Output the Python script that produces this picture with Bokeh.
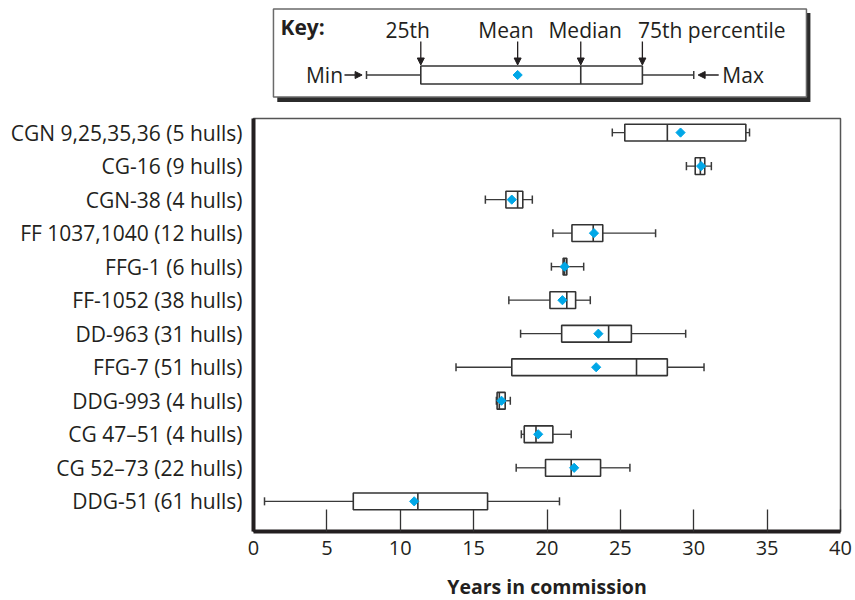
import numpy as np
from bokeh.plotting import figure
from bokeh.layouts import column
from bokeh.models import Range1d, FixedTicker, Arrow, NormalHead, ColumnDataSource
from bokeh.core.properties import value
from bokeh.embed import file_html
from bokeh.resources import INLINE

# ---------------- data ----------------
categories = [
    "CGN 9,25,35,36 (5 hulls)",
    "CG-16 (9 hulls)",
    "CGN-38 (4 hulls)",
    "FF 1037,1040 (12 hulls)",
    "FFG-1 (6 hulls)",
    "FF-1052 (38 hulls)",
    "DD-963 (31 hulls)",
    "FFG-7 (51 hulls)",
    "DDG-993 (4 hulls)",
    "CG 47\u201351 (4 hulls)",
    "CG 52\u201373 (22 hulls)",
    "DDG-51 (61 hulls)",
]
mins    = [24.45, 29.5, 15.8, 20.4, 20.3, 17.4, 18.2, 13.8, 16.55, 18.25, 17.9, 0.75]
q1s     = [25.3, 30.1, 17.2, 21.7, 21.1, 20.2, 21.0, 17.6, 16.6, 18.45, 19.9, 6.8]
medians = [28.2, 30.45, 18.0, 23.15, 21.2, 21.35, 24.2, 26.1, 16.75, 19.25, 21.65, 11.2]
means   = [29.1, 30.5, 17.6, 23.2, 21.2, 21.05, 23.5, 23.35, 16.9, 19.4, 21.85, 10.95]
q3s     = [33.55, 30.75, 18.35, 23.8, 21.35, 21.95, 25.75, 28.2, 17.15, 20.4, 23.65, 15.95]
maxs    = [33.8, 31.2, 19.0, 27.4, 22.5, 22.95, 29.45, 30.7, 17.5, 21.65, 25.65, 20.85]
x_ticks = [0, 5, 10, 15, 20, 25, 30, 35, 40]
x_title = "Years in commission"

# key example (in years, drawn on the same x scale)
key_min, key_q1, key_mean, key_median, key_q3, key_max = 7.7, 11.4, 18.0, 22.3, 26.5, 30.0
key_labels = ["25th", "Mean", "Median", "75th percentile"]

# ---------------- style ----------------
FONT = "Open Sans"
TXT = "#231f20"
BOX_LINE = "#333333"
MEAN_COL = "#00a7e7"
BOX_H = 0.5
CAP_H = 0.12

x_range = Range1d(0, 40)

# ---------------- main figure ----------------
n = len(categories)
ypos = list(range(1, n + 1))
src = ColumnDataSource(dict(
    y=ypos, mn=mins, q1=q1s, med=medians, mean=means, q3=q3s, mx=maxs,
    ylo=[y - BOX_H / 2 for y in ypos], yhi=[y + BOX_H / 2 for y in ypos],
    clo=[y - CAP_H for y in ypos], chi=[y + CAP_H for y in ypos],
))

p = figure(width=855, height=458, x_range=x_range, y_range=Range1d(n + 0.9, 0.58),
           output_backend="svg", toolbar_location=None,
           min_border_left=253, min_border_right=15, min_border_top=8, min_border_bottom=37)
p.grid.visible = False
p.outline_line_color = "#555555"
p.outline_line_width = 1.5
p.background_fill_color = "white"
p.border_fill_color = "white"

# whiskers
p.segment(x0="mn", y0="y", x1="q1", y1="y", source=src, line_color="#3a3a3a", line_width=1.3)
p.segment(x0="q3", y0="y", x1="mx", y1="y", source=src, line_color="#3a3a3a", line_width=1.3)
p.segment(x0="mn", y0="clo", x1="mn", y1="chi", source=src, line_color="#3a3a3a", line_width=1.5)
p.segment(x0="mx", y0="clo", x1="mx", y1="chi", source=src, line_color="#3a3a3a", line_width=1.5)
# boxes
p.hbar(y="y", left="q1", right="q3", height=BOX_H, source=src,
       fill_color="white", line_color=BOX_LINE, line_width=1.6)
p.segment(x0="med", y0="ylo", x1="med", y1="yhi", source=src, line_color=BOX_LINE, line_width=1.6)
# means
p.scatter(x="mean", y="y", source=src, marker="square", angle=np.pi / 4, size=6.5,
          fill_color=MEAN_COL, line_color=MEAN_COL)

# axes
xa = p.xaxis[0]
xa.ticker = FixedTicker(ticks=x_ticks)
xa.minor_tick_line_color = None
xa.major_tick_in = 22
xa.major_tick_out = 0
xa.major_tick_line_color = "#333333"
xa.major_tick_line_width = 1.3
xa.axis_line_width = 4
xa.axis_line_color = "#231f20"
xa.major_label_text_font = FONT
xa.major_label_text_font_size = "20px"
xa.major_label_text_color = TXT
xa.major_label_standoff = 9

ya = p.yaxis[0]
ya.ticker = FixedTicker(ticks=ypos)
ya.major_label_overrides = {y: c for y, c in zip(ypos, categories)}
ya.minor_tick_line_color = None
ya.major_tick_line_color = None
ya.major_tick_in = 0
ya.major_tick_out = 0
ya.axis_line_width = 4
ya.axis_line_color = "#231f20"
ya.major_label_text_font = FONT
ya.major_label_text_font_size = "21px"
ya.major_label_text_color = TXT
ya.major_label_standoff = 11

# ---------------- axis title strip ----------------
t = figure(width=855, height=32, x_range=x_range, y_range=Range1d(32, 0),
           output_backend="svg", toolbar_location=None, x_axis_type=None, y_axis_type=None,
           min_border_left=253, min_border_right=15, min_border_top=0, min_border_bottom=0)
t.grid.visible = False
t.outline_line_color = None
t.border_fill_color = "white"
t.text(x=[(x_ticks[0] + x_ticks[-1]) / 2], y=[18], text=[x_title], text_font=value(FONT),
       text_font_style="bold", text_font_size="19.5px", text_color=TXT,
       text_align="center", text_baseline="middle")

# ---------------- key figure ----------------
k = figure(width=855, height=110, x_range=x_range, y_range=Range1d(110, 0),
           output_backend="svg", toolbar_location=None, x_axis_type=None, y_axis_type=None,
           min_border_left=253, min_border_right=15, min_border_top=0, min_border_bottom=0)
k.grid.visible = False
k.outline_line_color = None
k.background_fill_color = "white"
k.border_fill_color = "white"

# key frame with shadow (layout positions in key space)
k.quad(left=[1.62], right=[37.95], top=[12.5], bottom=[101.5], fill_color="#2b2b2b", line_color=None)
k.quad(left=[1.36], right=[37.68], top=[8.5], bottom=[96.5], fill_color="white",
       line_color="#6a6a6a", line_width=1.5)

KY = 74.5
k.segment(x0=[key_min, key_q3], y0=[KY, KY], x1=[key_q1, key_max], y1=[KY, KY],
          line_color="#3a3a3a", line_width=1.3)
k.segment(x0=[key_min, key_max], y0=[KY - 4, KY - 4], x1=[key_min, key_max], y1=[KY + 4, KY + 4],
          line_color="#3a3a3a", line_width=1.5)
k.quad(left=[key_q1], right=[key_q3], top=[KY - 9], bottom=[KY + 9], fill_color="white",
       line_color=BOX_LINE, line_width=1.6)
k.segment(x0=[key_median], y0=[KY - 9], x1=[key_median], y1=[KY + 9], line_color=BOX_LINE, line_width=1.6)
k.scatter(x=[key_mean], y=[KY], marker="square", angle=np.pi / 4, size=6.5,
          fill_color=MEAN_COL, line_color=MEAN_COL)

for xv in [key_q1, key_mean, key_median, key_q3]:
    k.add_layout(Arrow(x_start=xv, y_start=41, x_end=xv, y_end=64.5, line_color="#231f20", line_width=1.3,
                       end=NormalHead(size=7, fill_color="#231f20", line_color="#231f20")))
k.add_layout(Arrow(x_start=key_min - 1.5, y_start=KY, x_end=key_min - 0.3, y_end=KY,
                   line_color="#231f20", line_width=1.3,
                   end=NormalHead(size=7, fill_color="#231f20", line_color="#231f20")))
k.add_layout(Arrow(x_start=key_max + 1.7, y_start=KY, x_end=key_max + 0.3, y_end=KY,
                   line_color="#231f20", line_width=1.3,
                   end=NormalHead(size=7, fill_color="#231f20", line_color="#231f20")))

k.text(x=[1.84], y=[26], text=["Key:"], text_font=value(FONT), text_font_style="bold",
       text_font_size="21px", text_color=TXT, text_align="left", text_baseline="middle")
k.text(x=[key_q1 - 0.9, key_mean - 0.8, key_median + 0.3], y=[29, 29, 29], text=key_labels[:3],
       text_font=value(FONT), text_font_size="21px", text_color=TXT,
       text_align="center", text_baseline="middle")
k.text(x=[key_q3 - 0.3], y=[29], text=key_labels[3:], text_font=value(FONT), text_font_size="21px",
       text_color=TXT, text_align="left", text_baseline="middle")
k.text(x=[key_min - 1.6], y=[KY], text=["Min"], text_font=value(FONT), text_font_size="21px",
       text_color=TXT, text_align="right", text_baseline="middle")
k.text(x=[key_max + 1.95], y=[KY], text=["Max"], text_font=value(FONT), text_font_size="21px",
       text_color=TXT, text_align="left", text_baseline="middle")

layout = column(k, p, t, spacing=0)
open("out.html", "w").write(file_html(layout, INLINE))
